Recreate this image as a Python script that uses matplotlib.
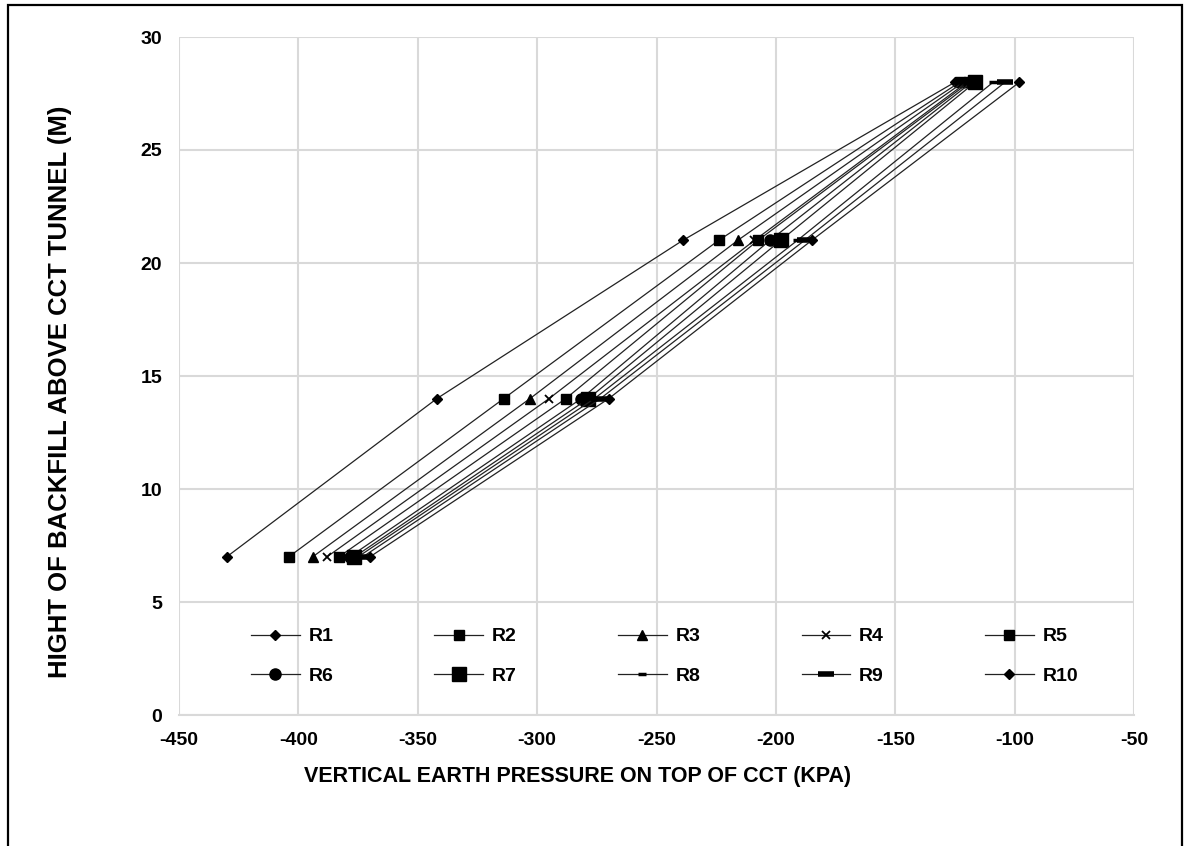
import matplotlib
matplotlib.use("Agg")
import matplotlib.pyplot as plt
from matplotlib.patches import Rectangle

plt.rcParams["font.family"] = ["Liberation Sans", "DejaVu Sans"]
plt.rcParams["font.weight"] = "bold"
plt.rcParams["axes.unicode_minus"] = False

# backfill heights (m) and vertical pressure per run (kPa)
heights = [7, 14, 21, 28]
series_names = ["R1", "R2", "R3", "R4", "R5", "R6", "R7", "R8", "R9", "R10"]
r1 = [-430, -342, -239, -125]
r2 = [-404, -314, -224, -123]
r3 = [-394, -303, -216, -121.5]
r4 = [-388, -295, -209, -120]
r5 = [-383, -288, -207.5, -119]
r6 = [-378.5, -281.5, -202.5, -118]
r7 = [-376.5, -278.5, -198, -116.5]
r8 = [-375, -276, -191, -109]
r9 = [-373, -273.5, -188, -104]
r10 = [-370, -270, -185, -98]
pressures = [r1, r2, r3, r4, r5, r6, r7, r8, r9, r10]

x_ticks = list(range(-450, -49, 50))
y_ticks = list(range(0, 31, 5))

# marker style per run: (marker, size, edge width)
marker_styles = [
    ("D", 5, 1),
    ("s", 7, 1),
    ("^", 7, 1),
    ("x", 6, 1.3),
    ("s", 7, 1),
    ("o", 8, 1),
    ("s", 10, 1),
    ("_", 6, 2.5),
    ("_", 11, 4),
    ("D", 5, 1),
]

fig = plt.figure(figsize=(11.87, 8.46), dpi=100)
ax = fig.add_axes([179 / 1187, 1 - 715 / 846, (1134 - 179) / 1187, (715 - 37) / 846])

handles = []
for name, xs, (mk, ms, mew) in zip(series_names, pressures, marker_styles):
    (h,) = ax.plot(xs, heights, color="#222222", lw=0.9, marker=mk, ms=ms,
                   mec="black", mfc="black", mew=mew, label=name)
    handles.append(h)

ax.set_xlim(-450, -50)
ax.set_ylim(0, 30)
ax.set_xticks(x_ticks)
ax.set_yticks(y_ticks)
ax.grid(True, color="#d9d9d9", lw=1.5)
ax.set_axisbelow(True)
for side in ["top", "right", "left"]:
    ax.spines[side].set_visible(False)
ax.spines["bottom"].set_color("#d9d9d9")
ax.spines["bottom"].set_linewidth(1.5)
ax.tick_params(length=0, labelsize=14, pad=12)
for lbl in ax.get_xticklabels() + ax.get_yticklabels():
    lbl.set_fontweight("bold")

# two rows of five: R1-R5 on top, R6-R10 below
order = [0, 5, 1, 6, 2, 7, 3, 8, 4, 9]
ax.legend([handles[i] for i in order], [series_names[i] for i in order],
          ncol=5, frameon=False, loc="lower left", bbox_to_anchor=(0.057, 0.018),
          prop={"size": 14, "weight": "bold"}, handlelength=2.5,
          handletextpad=0.46, columnspacing=5.2, labelspacing=1.15)

fig.text(578 / 1187, 1 - 776 / 846, "VERTICAL EARTH PRESSURE ON TOP OF CCT (KPA)",
         ha="center", va="center", fontsize=15.5, fontweight="bold")
fig.text(60 / 1187, 1 - 392 / 846, "HIGHT OF BACKFILL ABOVE CCT TUNNEL (M)",
         ha="center", va="center", rotation=90, fontsize=18.5, fontweight="bold")

fig.patches.append(Rectangle((8 / 1187, -0.01), (1182 - 8) / 1187, 1.01 - 5 / 846,
                             transform=fig.transFigure, fill=False,
                             edgecolor="black", lw=1.6))

fig.savefig("out.png", dpi=100)
